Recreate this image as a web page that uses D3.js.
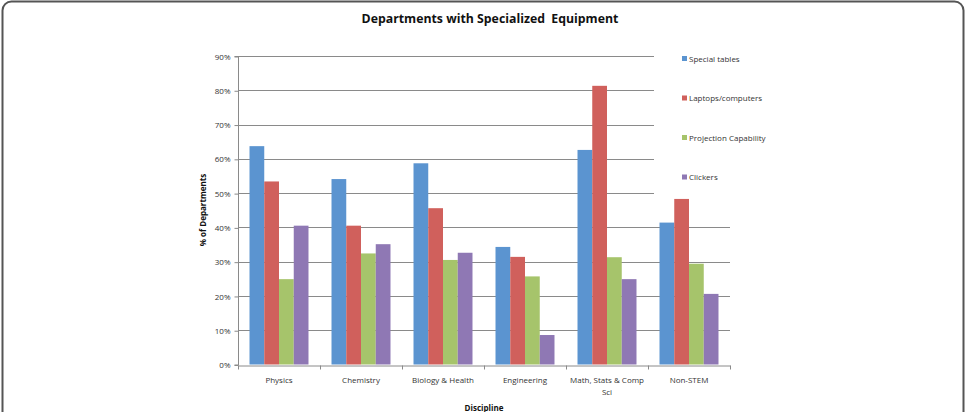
<!DOCTYPE html>
<html><head><meta charset="utf-8">
<script src="https://cdn.jsdelivr.net/npm/d3@7/dist/d3.min.js"></script>
<style>html,body{margin:0;padding:0;background:#fff;}svg{display:block;}</style>
</head><body>
<script>
const categories = ["Physics", "Chemistry", "Biology & Health", "Engineering", "Math, Stats & Comp Sci", "Non-STEM"];
const categoryLines = [["Physics"], ["Chemistry"], ["Biology & Health"], ["Engineering"], ["Math, Stats & Comp", "Sci"], ["Non-STEM"]];
const seriesNames = ["Special tables", "Laptops/computers", "Projection Capability", "Clickers"];
const specialTables = [63.7, 54.1, 58.7, 34.3, 62.6, 41.4];
const laptops = [53.4, 40.5, 45.6, 31.4, 81.3, 48.3];
const projection = [24.9, 32.4, 30.5, 25.7, 31.3, 29.4];
const clickers = [40.5, 35.1, 32.6, 8.6, 24.9, 20.6];
const seriesColors = ["#5b94d0", "#d0605c", "#a6c46b", "#8f78b4"];
const yTicks = [0, 10, 20, 30, 40, 50, 60, 70, 80, 90];

(function () {
const seriesValues = [specialTables, laptops, projection, clickers];

const W = 967, H = 412;
const svg = d3.select("body").append("svg").attr("width", W).attr("height", H);
const font = "'Open Sans', 'Liberation Sans', sans-serif";

// frame
svg.append("rect").attr("x", 2.5).attr("y", 1.5).attr("width", 961).attr("height", 440)
  .attr("rx", 9).attr("fill", "#fff").attr("stroke", "#555").attr("stroke-width", 2);

const pL = 238, pR = 730, pT = 56, pB = 364.5;
const x = d3.scaleBand().domain(categories).range([pL, pR]);
const x1 = d3.scaleBand().domain(seriesNames).range([0, x.bandwidth()]).paddingOuter(0.78);
const y = d3.scaleLinear().domain([0, 90]).range([pB, pT]);

// gridlines
svg.append("g").selectAll("line").data(yTicks.filter(d => d > 0)).join("line")
  .attr("x1", pL).attr("x2", pR)
  .attr("y1", d => Math.round(y(d)) + 0.5).attr("y2", d => Math.round(y(d)) + 0.5)
  .attr("stroke", "#8a8a8a").attr("stroke-width", 1);

// y axis
const yAxis = d3.axisLeft(y).tickValues(yTicks).tickFormat(d => d + "%").tickSize(4).tickPadding(4);
const yg = svg.append("g").attr("transform", `translate(${pL + 0.5},0.5)`).call(yAxis);
yg.select(".domain").attr("stroke", "#8a8a8a").attr("d", `M-4,${y(0)}H0V${y(90)}H-4`);
yg.selectAll(".tick line").attr("stroke", "#8a8a8a");
yg.selectAll(".tick text").attr("font-family", font).attr("font-size", 8).attr("fill", "#333");

// bars
const groups = svg.append("g").selectAll("g").data(seriesNames).join("g")
  .attr("fill", (d, i) => seriesColors[i]);
groups.selectAll("rect").data((s, i) => seriesValues[i].map((v, j) => ({ s, v, c: categories[j] })))
  .join("rect")
  .attr("x", d => x(d.c) + x1(d.s))
  .attr("width", x1.bandwidth())
  .attr("y", d => y(d.v))
  .attr("height", d => y(0) - y(d.v));

// x axis
const xAxis = d3.axisBottom(x).tickSize(0).tickFormat("");
const xg = svg.append("g").attr("transform", `translate(0,${Math.round(pB) + 0.5})`).call(xAxis);
xg.select(".domain").attr("stroke", "#8a8a8a");
const bounds = d3.range(categories.length + 1).map(i => pL + i * x.step());
xg.selectAll(".bt").data(bounds).join("line").attr("class", "bt")
  .attr("x1", d => Math.round(d) + 0.5).attr("x2", d => Math.round(d) + 0.5)
  .attr("y1", 0).attr("y2", 4).attr("stroke", "#8a8a8a");
const lab = svg.append("g");
categories.forEach((c, i) => {
  const cx = x(c) + x.bandwidth() / 2;
  const t = lab.append("text").attr("x", cx).attr("y", 383)
    .attr("text-anchor", "middle").attr("font-family", font).attr("font-size", 8).attr("fill", "#333");
  categoryLines[i].forEach((ln, k) => t.append("tspan").attr("x", cx).attr("dy", k === 0 ? 0 : 12).text(ln));
});

// axis titles
svg.append("text").attr("x", 484).attr("y", 411).attr("text-anchor", "middle")
  .attr("font-family", font).attr("font-size", 8).attr("font-weight", "bold").attr("fill", "#111").text("Discipline");
svg.append("text").attr("transform", "translate(206,210) rotate(-90)").attr("text-anchor", "middle")
  .attr("font-family", font).attr("font-size", 8).attr("font-weight", "bold").attr("fill", "#111").text("% of Departments");

// title
svg.append("text").attr("x", 490).attr("y", 23).attr("text-anchor", "middle")
  .attr("font-family", font).attr("font-size", 12.3).attr("font-weight", "bold").attr("fill", "#111")
  .style("white-space", "pre")
  .text("Departments with Specialized  Equipment");

// legend
const lg = svg.append("g");
lg.append("rect").attr("x", 654).attr("y", 45).attr("width", 130).attr("height", 152).attr("fill", "#fff");
const legY = [58.5, 98, 137.5, 177];
seriesNames.forEach((s, i) => {
  lg.append("rect").attr("x", 682).attr("y", legY[i] - 2.5).attr("width", 5).attr("height", 5).attr("fill", seriesColors[i]);
  lg.append("text").attr("x", 689).attr("y", legY[i] + 3).attr("font-family", font).attr("font-size", 8)
    .attr("fill", "#333").text(s);
});
})();
</script>
</body></html>
